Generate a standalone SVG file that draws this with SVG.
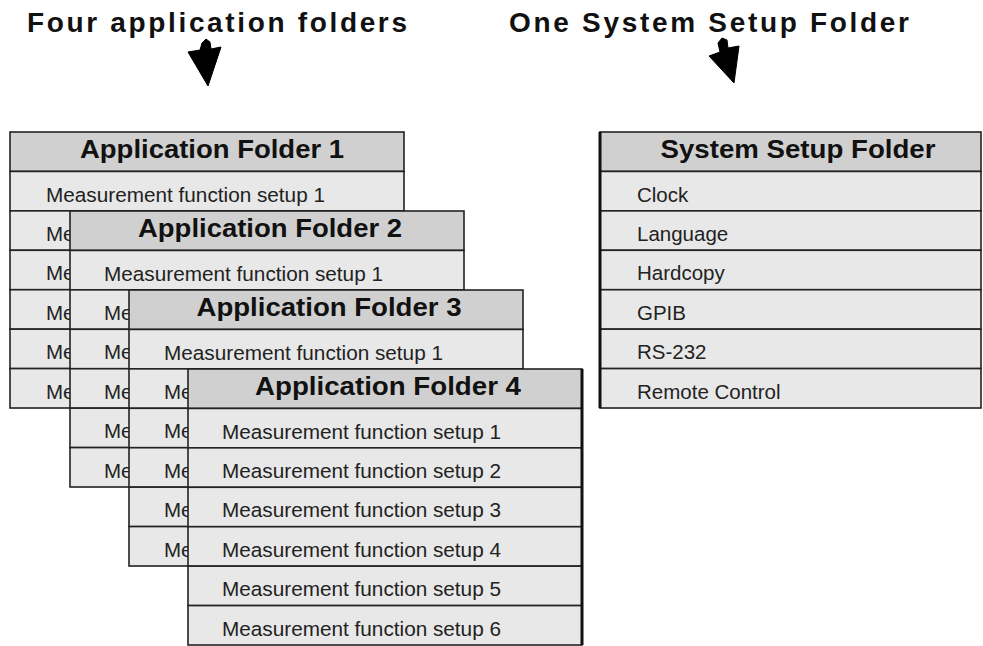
<svg xmlns="http://www.w3.org/2000/svg" width="983" height="646" viewBox="0 0 983 646">
<style>
.title{font-family:"Liberation Sans",Arial,sans-serif;font-weight:bold;font-size:28px;fill:#111}
.hdr{fill:#d0d0d0;stroke:#222;stroke-width:1.6}
.row{fill:#e8e8e8;stroke:#222;stroke-width:1.6}
.ht{font-family:"Liberation Sans",Arial,sans-serif;font-weight:bold;font-size:25px;fill:#111;text-anchor:middle}
.rt{font-family:"Liberation Sans",Arial,sans-serif;font-size:20.5px;fill:#222}
.arrow{fill:#000;stroke:#000;stroke-width:1;stroke-linejoin:round}
</style>
<rect x="0" y="0" width="983" height="646" fill="#fff"/>
<g id="titles">
<text class="title" x="27" y="32" textLength="380" lengthAdjust="spacing">Four application folders</text>
<text class="title" x="509" y="32" textLength="400" lengthAdjust="spacing">One System Setup Folder</text>
</g>
<g id="connectors">
<path class="arrow" d="M188,52 L200,50 L202,43 L206,39 L210,42 L211,49 L221,47 L208,86 Z"/>
<path class="arrow" d="M709,56 L720,52 L718,43 L722,38 L727,40 L728,48 L739,46 L734,83 Z"/>
</g>
<g id="folder1" transform="translate(10,132)">
<rect class="hdr" x="0" y="0" width="394" height="39.43"/>
<rect class="row" x="0" y="39.43" width="394" height="39.43"/>
<rect class="row" x="0" y="78.86" width="394" height="39.43"/>
<rect class="row" x="0" y="118.29" width="394" height="39.43"/>
<rect class="row" x="0" y="157.72" width="394" height="39.43"/>
<rect class="row" x="0" y="197.15" width="394" height="39.43"/>
<rect class="row" x="0" y="236.58" width="394" height="39.43"/>
<text class="ht" x="202" y="26" textLength="264" lengthAdjust="spacingAndGlyphs">Application Folder 1</text>
<text class="rt" x="36" y="69.5" textLength="279" lengthAdjust="spacingAndGlyphs">Measurement function setup 1</text>
<text class="rt" x="36" y="108.9">Me</text>
<text class="rt" x="36" y="148.3">Me</text>
<text class="rt" x="36" y="187.7">Me</text>
<text class="rt" x="36" y="227.2">Me</text>
<text class="rt" x="36" y="266.6">Me</text>
</g>
<g id="folder2" transform="translate(70,211)">
<rect class="hdr" x="0" y="0" width="394" height="39.43"/>
<rect class="row" x="0" y="39.43" width="394" height="39.43"/>
<rect class="row" x="0" y="78.86" width="394" height="39.43"/>
<rect class="row" x="0" y="118.29" width="394" height="39.43"/>
<rect class="row" x="0" y="157.72" width="394" height="39.43"/>
<rect class="row" x="0" y="197.15" width="394" height="39.43"/>
<rect class="row" x="0" y="236.58" width="394" height="39.43"/>
<text class="ht" x="200" y="26" textLength="264" lengthAdjust="spacingAndGlyphs">Application Folder 2</text>
<text class="rt" x="34" y="69.5" textLength="279" lengthAdjust="spacingAndGlyphs">Measurement function setup 1</text>
<text class="rt" x="34" y="108.9">Me</text>
<text class="rt" x="34" y="148.3">Me</text>
<text class="rt" x="34" y="187.7">Me</text>
<text class="rt" x="34" y="227.2">Me</text>
<text class="rt" x="34" y="266.6">Me</text>
</g>
<g id="folder3" transform="translate(129,290)">
<rect class="hdr" x="0" y="0" width="394" height="39.43"/>
<rect class="row" x="0" y="39.43" width="394" height="39.43"/>
<rect class="row" x="0" y="78.86" width="394" height="39.43"/>
<rect class="row" x="0" y="118.29" width="394" height="39.43"/>
<rect class="row" x="0" y="157.72" width="394" height="39.43"/>
<rect class="row" x="0" y="197.15" width="394" height="39.43"/>
<rect class="row" x="0" y="236.58" width="394" height="39.43"/>
<text class="ht" x="200" y="26" textLength="265" lengthAdjust="spacingAndGlyphs">Application Folder 3</text>
<text class="rt" x="35" y="69.5" textLength="279" lengthAdjust="spacingAndGlyphs">Measurement function setup 1</text>
<text class="rt" x="35" y="108.9">Me</text>
<text class="rt" x="35" y="148.3">Me</text>
<text class="rt" x="35" y="187.7">Me</text>
<text class="rt" x="35" y="227.2">Me</text>
<text class="rt" x="35" y="266.6">Me</text>
</g>
<g id="folder4" transform="translate(188,369)">
<rect class="hdr" x="0" y="0" width="394" height="39.43"/>
<rect class="row" x="0" y="39.43" width="394" height="39.43"/>
<rect class="row" x="0" y="78.86" width="394" height="39.43"/>
<rect class="row" x="0" y="118.29" width="394" height="39.43"/>
<rect class="row" x="0" y="157.72" width="394" height="39.43"/>
<rect class="row" x="0" y="197.15" width="394" height="39.43"/>
<rect class="row" x="0" y="236.58" width="394" height="39.43"/>
<line x1="394" y1="0" x2="394" y2="276" stroke="#111" stroke-width="3"/>
<text class="ht" x="200" y="26" textLength="266" lengthAdjust="spacingAndGlyphs">Application Folder 4</text>
<text class="rt" x="34" y="69.5" textLength="279" lengthAdjust="spacingAndGlyphs">Measurement function setup 1</text>
<text class="rt" x="34" y="108.9" textLength="279" lengthAdjust="spacingAndGlyphs">Measurement function setup 2</text>
<text class="rt" x="34" y="148.3" textLength="279" lengthAdjust="spacingAndGlyphs">Measurement function setup 3</text>
<text class="rt" x="34" y="187.7" textLength="279" lengthAdjust="spacingAndGlyphs">Measurement function setup 4</text>
<text class="rt" x="34" y="227.2" textLength="279" lengthAdjust="spacingAndGlyphs">Measurement function setup 5</text>
<text class="rt" x="34" y="266.6" textLength="279" lengthAdjust="spacingAndGlyphs">Measurement function setup 6</text>
</g>
<g id="system-folder" transform="translate(600,132)">
<rect class="hdr" x="0" y="0" width="381" height="39.43"/>
<rect class="row" x="0" y="39.43" width="381" height="39.43"/>
<rect class="row" x="0" y="78.86" width="381" height="39.43"/>
<rect class="row" x="0" y="118.29" width="381" height="39.43"/>
<rect class="row" x="0" y="157.72" width="381" height="39.43"/>
<rect class="row" x="0" y="197.15" width="381" height="39.43"/>
<rect class="row" x="0" y="236.58" width="381" height="39.43"/>
<line x1="0" y1="0" x2="0" y2="276" stroke="#111" stroke-width="3"/>
<text class="ht" x="198" y="26" textLength="275" lengthAdjust="spacingAndGlyphs">System Setup Folder</text>
<text class="rt" x="37" y="69.5">Clock</text>
<text class="rt" x="37" y="108.9">Language</text>
<text class="rt" x="37" y="148.3">Hardcopy</text>
<text class="rt" x="37" y="187.7">GPIB</text>
<text class="rt" x="37" y="227.2">RS-232</text>
<text class="rt" x="37" y="266.6">Remote Control</text>
</g>
</svg>
